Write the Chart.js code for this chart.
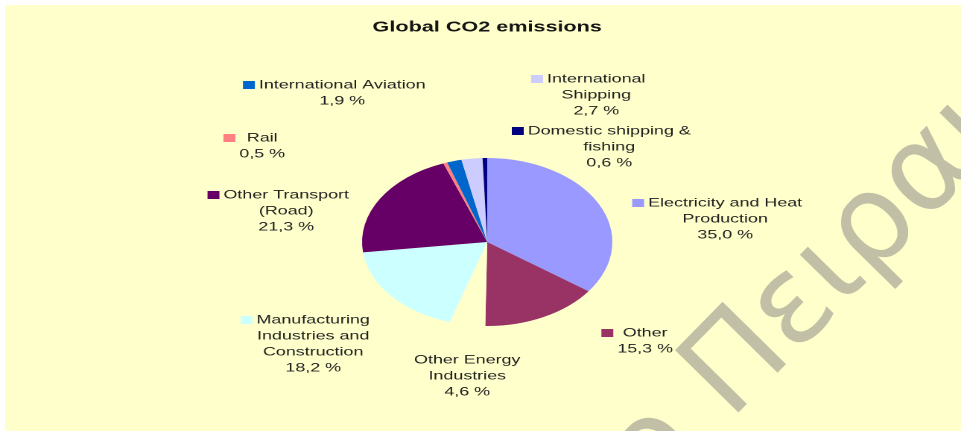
<!DOCTYPE html>
<html>
<head>
<meta charset="utf-8">
<script src="https://cdn.jsdelivr.net/npm/chart.js@4.4.1/dist/chart.umd.min.js"></script>
<style>
  html, body { margin: 0; padding: 0; background: #ffffff; width: 961px; height: 431px; overflow: hidden; }
  #panel { position: absolute; left: 5px; top: 5px; right: 0; bottom: 0; background: #FFFFCC; }
  #co2 { position: absolute; left: 0; top: 0; }
</style>
</head>
<body>
<div id="panel"></div>
<!-- drawn at 645 logical px wide and shown 961 px wide: the whole figure is widened -->
<canvas id="co2" width="645" height="431" style="width:961px;height:431px"></canvas>
<script>
// Sectors, clockwise from 12 o'clock
const categories = [
  'Electricity and Heat Production',
  'Other',
  'Other Energy Industries',
  'Manufacturing Industries and Construction',
  'Other Transport (Road)',
  'Rail',
  'International Aviation',
  'International Shipping',
  'Domestic shipping & fishing'
];

// Share of global CO2 emissions, %
const shares = [35.0, 15.3, 4.6, 18.2, 21.3, 0.5, 1.9, 2.7, 0.6];

// Wrapped label text for each sector
const labelLines = [
  ['Electricity and Heat', 'Production'],
  ['Other'],
  ['Other Energy', 'Industries'],
  ['Manufacturing', 'Industries and', 'Construction'],
  ['Other Transport', '(Road)'],
  ['Rail'],
  ['International Aviation'],
  ['International', 'Shipping'],
  ['Domestic shipping &', 'fishing']
];

const sliceColors = [
  '#9999FF', '#993366', '#FFFFCC', '#CCFFFF', '#660066',
  '#FF8080', '#0066CC', '#CCCCFF', '#000080'
];

// Label placement: offset of the first text line from the pie centre (logical px)
const labelOffsets = [
  [159.7, -39], [106.0, 91], [-13.4, 118], [-116.8, 78], [-134.9, -47],
  [-151.0, -104], [-97.3, -157], [73.2, -163], [81.9, -111]
];

const STRETCH = 961 / 645;
const LINE_H = 16;
const KEY = 8;

function pct(v) {
  return v.toFixed(1).replace('.', ',') + ' %';
}

const sliceLabels = {
  id: 'sliceLabels',
  afterDatasetsDraw(chart) {
    const ctx = chart.ctx;
    const arcs = chart.getDatasetMeta(0).data;
    ctx.save();
    ctx.font = '12px "Liberation Sans", Arial, sans-serif';
    ctx.textAlign = 'center';
    ctx.textBaseline = 'middle';
    arcs.forEach((arc, i) => {
      const lines = labelLines[i].concat([pct(shares[i])]);
      const x = arc.x + labelOffsets[i][0];
      const y0 = arc.y + labelOffsets[i][1];
      const w = Math.max(...lines.map(l => ctx.measureText(l).width));
      ctx.fillStyle = '#1e1e1e';
      lines.forEach((l, k) => ctx.fillText(l, x, y0 + k * LINE_H));
      ctx.fillStyle = sliceColors[i];
      ctx.fillRect(x - w / 2 - 2.7 - KEY, y0 - KEY / 2, KEY, KEY);
    });
    ctx.restore();
  }
};

// Diagonal watermark, drawn in screen proportions (undoing the widening)
const watermark = {
  id: 'watermark',
  afterDraw(chart) {
    const ctx = chart.ctx;
    ctx.save();
    ctx.scale(1 / STRETCH, 1);
    ctx.translate(730, 421);
    ctx.rotate(-45.5 * Math.PI / 180);
    ctx.font = '122px "DejaVu Sans", sans-serif';
    ctx.fillStyle = '#C1C0A6';
    ctx.textBaseline = 'alphabetic';
    ctx.textAlign = 'left';
    ctx.fillText('Πειραιώς', 0, 0);
    ctx.textAlign = 'right';
    ctx.fillText('Πανεπιστήμιο ', 0, 0);
    ctx.restore();
  }
};

Chart.defaults.font.family = '"Liberation Sans", Arial, sans-serif';

new Chart(document.getElementById('co2'), {
  type: 'pie',
  data: {
    labels: categories,
    datasets: [{
      data: shares,
      backgroundColor: sliceColors,
      borderWidth: 0
    }]
  },
  options: {
    responsive: false,
    animation: false,
    devicePixelRatio: 2,
    layout: { padding: { left: 243, right: 234, top: 0, bottom: 105 } },
    plugins: {
      legend: { display: false },
      tooltip: { enabled: false },
      title: {
        display: true,
        text: 'Global CO2 emissions',
        color: '#141414',
        font: { size: 14.5, weight: 'bold' },
        padding: { top: 19, bottom: 121.6 }
      }
    }
  },
  plugins: [sliceLabels, watermark]
});
</script>
</body>
</html>
